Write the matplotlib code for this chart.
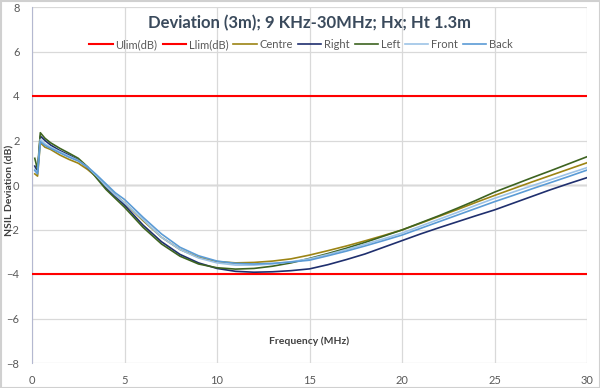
import matplotlib
matplotlib.use("Agg")
import matplotlib.pyplot as plt

freq = [0.15, 0.3, 0.45, 0.7, 1, 1.5, 2, 2.5, 3, 3.5, 4, 4.5, 5, 6, 7, 8, 9, 10,
        11, 12, 13, 14, 15, 16, 17, 18, 19, 20, 21, 22, 23, 24, 25, 26, 27, 28, 29, 30]

centre = [0.5, 0.4, 1.9, 1.7, 1.6, 1.35, 1.15, 0.98, 0.7, 0.35, -0.05, -0.45, -0.8,
          -1.6, -2.35, -2.9, -3.25, -3.44, -3.5, -3.48, -3.42, -3.32, -3.15, -2.95,
          -2.74, -2.51, -2.27, -2.02, -1.72, -1.41, -1.1, -0.78, -0.47, -0.17, 0.13,
          0.42, 0.71, 1.0]
right = [0.85, 0.6, 2.2, 2.0, 1.8, 1.55, 1.35, 1.12, 0.78, 0.35, -0.12, -0.52, -0.9,
         -1.8, -2.55, -3.12, -3.5, -3.75, -3.88, -3.92, -3.9, -3.85, -3.77, -3.58,
         -3.35, -3.1, -2.8, -2.5, -2.2, -1.92, -1.65, -1.38, -1.12, -0.82, -0.52,
         -0.22, 0.06, 0.33]
left = [1.2, 0.7, 2.35, 2.1, 1.9, 1.65, 1.43, 1.2, 0.82, 0.3, -0.2, -0.6, -1.0,
        -1.9, -2.65, -3.2, -3.55, -3.72, -3.78, -3.75, -3.65, -3.5, -3.3, -3.08,
        -2.84, -2.58, -2.3, -2.02, -1.7, -1.38, -1.04, -0.69, -0.32, 0.0, 0.32,
        0.63, 0.95, 1.27]
front = [0.7, 0.55, 2.05, 1.85, 1.7, 1.5, 1.3, 1.1, 0.8, 0.4, -0.05, -0.45, -0.8,
         -1.55, -2.35, -2.9, -3.28, -3.5, -3.6, -3.6, -3.55, -3.45, -3.32, -3.12,
         -2.9, -2.66, -2.42, -2.16, -1.85, -1.54, -1.23, -0.91, -0.6, -0.32, -0.04,
         0.23, 0.51, 0.78]
back = [0.65, 0.5, 1.95, 1.78, 1.65, 1.45, 1.25, 1.08, 0.82, 0.45, 0.05, -0.35, -0.65,
        -1.45, -2.2, -2.8, -3.18, -3.42, -3.52, -3.55, -3.52, -3.46, -3.38, -3.18,
        -2.97, -2.74, -2.5, -2.25, -1.95, -1.65, -1.35, -1.05, -0.75, -0.47, -0.18,
        0.1, 0.38, 0.67]

ulim = 4
llim = -4
limit_x = [0, 30]

x_ticks = [0, 5, 10, 15, 20, 25, 30]
y_ticks = [-8, -6, -4, -2, 0, 2, 4, 6, 8]

title = "Deviation (3m); 9 KHz-30MHz; Hx; Ht 1.3m"

plt.rcParams['font.family'] = ['Lato', 'DejaVu Sans']

fig = plt.figure(figsize=(6.0, 3.88), dpi=100)
fig.patch.set_facecolor('white')
ax = fig.add_axes([32/600, 1 - 363/388, (587-32)/600, (363-7)/388])

ax.plot(limit_x, [ulim, ulim], color='#ff0000', lw=1.5, label='Ulim(dB)', zorder=3)
ax.plot(limit_x, [llim, llim], color='#ff0000', lw=1.5, label='Llim(dB)', zorder=3)
ax.plot(freq, centre, color='#9c8414', lw=1.2, label='Centre', zorder=4)
ax.plot(freq, right, color='#1f2f6e', lw=1.2, label='Right', zorder=4)
ax.plot(freq, left, color='#3d6320', lw=1.2, label='Left', zorder=4)
ax.plot(freq, front, color='#9dc3e6', lw=1.2, label='Front', zorder=4)
ax.plot(freq, back, color='#5b9bd5', lw=1.2, label='Back', zorder=4)

ax.set_xlim(0, 30)
ax.set_ylim(-8, 8)
ax.set_xticks(x_ticks)
ax.set_yticks(y_ticks)
ax.grid(True, color='#d9d9d9', lw=0.9, zorder=0)
ax.axhline(0, color='#a6a6a6', lw=1.0, zorder=1)
for s in ['top', 'right', 'bottom']:
    ax.spines[s].set_visible(False)
ax.spines['left'].set_color('#b4b8d0')
ax.tick_params(length=0, labelsize=8, colors='#595959')
ax.tick_params(axis='x', pad=9)
ax.tick_params(axis='y', pad=9)

ax.text(0.5, 0.955, title, transform=ax.transAxes, ha='center', va='center',
        fontsize=12, fontweight='bold', color='#3a4a5c')
ax.legend(loc='upper center', bbox_to_anchor=(0.485, 0.922), ncol=7, frameon=False,
          fontsize=8, labelcolor='#595959', handlelength=2.1, handletextpad=0.25,
          columnspacing=0.45, borderaxespad=0)
ax.text(0.5, -7.0, 'Frequency (MHz)', transform=ax.get_yaxis_transform(),
        ha='center', va='center', fontsize=7.5, fontweight='bold', color='#404040')
fig.text(10/600, 1 - 190/388, 'NSIL Deviation (dB)', rotation=90, ha='center',
         va='center', fontsize=7.5, fontweight='bold', color='#404040')

fig.add_artist(plt.Rectangle((0.5/600, 0.5/388), 1 - 1/600, 1 - 1/388,
                             transform=fig.transFigure, fill=False,
                             edgecolor='#d0d0d0', lw=1.5))

fig.savefig('out.png', dpi=100)
